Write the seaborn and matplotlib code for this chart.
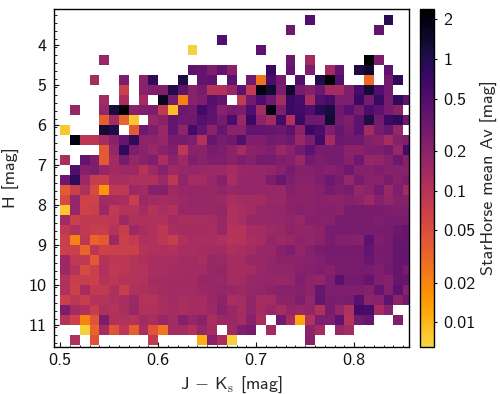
"""StarHorse mean Av across the J-Ks / H colour-magnitude plane."""

import matplotlib

matplotlib.use("Agg")

import matplotlib.pyplot as plt
import numpy as np
import seaborn as sns
from matplotlib.colors import LinearSegmentedColormap, LogNorm
from matplotlib.ticker import MultipleLocator

_ = np.nan

# cell values in mag, top row is H = 3.25-3.5, first column is J-Ks = 0.50-0.51
rows_top = [
    [_]*25 + [.5] + [_]*7 + [.9] + [_]*2,
    [_]*23 + [.33] + [_]*8 + [.38] + [_]*3,
    [_]*16 + [.5] + [_]*19,
    [_]*13 + [.007] + [_]*6 + [.42] + [_]*15,
    [_]*4 + [.16] + [_]*18 + [.32, _, .14] + [_]*5 + [2.2, .25] + [_]*3,
    [_]*13 + [.4, .38, .25, .38, .2, _, _, _, .75, _, .38, _, .25, _, .14, .38, _, 1.1, 1.4, _, .42, _, _],
    [_, _, _, .13, _, _, .25, _, .2, .85, _, _, 1.1, _, .38, .4, _, .42, _, .3, .027, .55, .3, _, .5, _, 1.05, 2.3, .5, _, _, .03, _, .3, .85, _],
    [_, _, _, _, _, _, .07, _, .21, .24, .24, 1.05, .4, .2, .27, .1, .11, .16, .42, .08, 1.9, 1.35, .25, 1.4, .27, .22, .32, .14, .14, .24, .6, 1.3, .5, .3, _, _],
    [_, _, _, _, .14, _, .12, _, .13, _, 1.7, .27, .021, .21, .24, .47, .38, _, .08, .3, .55, .31, .14, .7, .6, .12, .47, .6, .24, .24, .7, .27, .75, .27, .85, .42],
    [_, .17, _, _, .17, 1.2, 2.4, .2, .24, .25, .08, .009, .32, .3, .62, .42, .21, .27, .25, .5, .14, 1.9, .24, .7, .62, .5, .95, 1.2, .32, .45, .27, .55, .42, .28, .2, _],
    [_, _, _, _, .036, .14, .034, .008, _, .16, .2, .38, .31, .31, .47, .4, .27, .55, .16, .7, .19, .14, .62, .11, .7, .31, .31, 1.3, .3, .25, .42, 1.1, .3, .7, .85, .31],
]
rows_middle = [
    [.008, _, _, _, 1.3, 1.05, _, .04, .32, .25, .16, .38, .19, .62, .38, .2, .36, .2, .2, .38, .38, .36, .32, .42, .2, .7, .55, .24, .36, .27, .42, .14, .27, .36, .17, _],
    [_, 2.0, .09, .09, .13, .21, .38, .85, .19, .19, .17, .27, .27, .24, .11, .36, .27, .31, .5, .24, .24, .3, .27, .31, .16, .25, .62, .14, .32, .31, .31, .22, .2, .13, .22, .24],
    [_, _, _, _, .04, .17, .85, .25, .2, .16, .2, .24, .09, .2, .2, .27, .25, .2, .14, .2, .21, .24, .16, .2, .3, .42, .27, .27, .27, .2, .2, .24, .24, .3, .17, .62],
    [.12, _, .38, .25, .04, .14, .28, .17, .2, .24, .12, .2, .15, .24, .2, .24, .24, .2, .25, .22, .27, .27, .24, .23, .16, .3, .25, .27, .27, .22, .32, .17, .18, .22, .32, .22],
    [_, .5, .22, .25, .17, .14, .15, .15, .1, .15, .21, .15, .17, .17, .16, .15, .15, .13, .16, .17, .17, .18, .21, .27, .22, .22, .24, .21, .24, .32, .22, .22, .24, .22, .22, .2],
    [.32, .85, .15, .075, .075, .125, .125, .115, .115, .115, .15, .09, .185, .13, .14, .16, .21, .125, .17, .17, .17, .25, .34, .24, .21, .21, .24, .32, .265, .175, .275, .21, .21, .265, .22, .25],
    [.04, .07, .115, .055, .015, .085, .085, .15, .14, .22, .22, .15, .17, .17, .16, .16, .185, .16, .17, .175, .17, .17, .16, .22, .195, .195, .22, .275, .24, .265, .175, .195, .275, .16, .24, .14],
    [.055, .17, .065, .065, .14, .13, .125, .075, .15, .14, .13, .14, .15, .16, .17, .16, .15, .125, .13, .14, .14, .16, .16, .195, .195, .195, .21, .195, .195, .22, .195, .15, .22, .175, .22, .21],
    [.008, .17, .065, .07, .15, .085, .1, .1, .13, .1, .125, .11, .16, .16, .16, .16, .175, .115, .125, .14, .16, .17, .175, .195, .22, .195, .21, .22, .195, .265, .265, .265, .265, .25, .24, .24],
    [.14, .07, .085, .085, .085, .09, .15, .115, .115, .115, .11, .14, .125, .125, .125, .13, .16, .115, .125, .16, .16, .17, .17, .185, .16, .22, .21, .21, .265, .265, .265, .265, .24, .265, .265, .265],
    [.085, .115, .085, .075, .075, .1, .075, .15, .125, .11, .09, .125, .13, .13, .13, .125, .16, .1, .1, .13, .14, .15, .16, .195, .185, .185, .195, .265, .265, .265, .265, .265, .275, .28, .32, .37],
]
rows_bottom = [
    [.07, .021, .09, .034, .04, .15, .07, .08, .115, .11, .09, .075, .115, .125, .125, .125, .115, .1, .1, .125, .13, .175, .15, .16, .195, .185, .195, .265, .23, .23, .21, .42, .24, .275, .36, .37],
    [.07, .07, .034, .09, .065, .07, .07, .07, .1, .11, .115, .11, .125, .125, .13, .14, .14, .115, .125, .14, .16, .16, .21, .24, .185, .22, .265, .275, .275, .275, .275, .37, .275, .275, .37, .37],
    [.15, .085, .085, .04, .1, .09, .09, .1, .115, .125, .125, .125, .13, .14, .125, .16, .15, .13, .13, .16, .16, .175, .195, .195, .195, .21, .23, .265, .265, .265, .265, .34, .265, .275, .37, .37],
    [.15, .1, .055, .07, .115, .085, .09, .1, .1, .125, .125, .13, .13, .14, .14, .16, .175, .13, .13, .14, .16, .185, .185, .185, .21, .22, .24, .22, .265, .265, .275, .275, .24, .29, .37, .275],
    [.11, .075, .075, .07, .1, .09, .1, .1, .11, .13, .13, .14, .14, .14, .16, .16, .16, .13, .14, .16, .17, .17, .16, .175, .24, .195, .185, .24, .43, .29, .29, .37, .24, .22, .36, .36],
    [.115, .07, .13, .08, .08, .115, .075, .11, .115, .125, .13, .14, .14, .14, .15, .16, .175, .16, .15, .17, .175, .195, .21, .21, .22, .195, .36, .24, .24, .24, .24, .22, .37, .22, .42, .21],
    [.07, .09, .075, .1, .1, .115, .125, .15, .1, .1, .125, .14, .125, .13, .13, .16, .195, .125, .13, .185, .13, .14, .195, .195, .24, .175, .37, .265, .25, .265, .45, .195, .21, .42, .195, .29],
    [.25, .13, .115, .075, .115, .1, .125, .16, .11, .115, .125, .13, .125, .13, .13, .15, .21, .16, .13, .185, .14, .16, .13, .185, .16, .185, .115, .265, .175, .115, .62, .6, .13, .21, _, _],
    [.1, .065, .021, .045, .26, .11, .11, .1, .14, .12, .16, .14, .22, .17, .2, .12, .16, .16, .13, .21, .12, _, .3, .13, .012, .11, .24, .24, .4, .1, .3, .36, _, _, .24, _],
    [_, _, .007, .034, .13, .045, .09, .036, .12, .045, .025, .14, .14, .11, .17, .13, _, .15, .24, .27, _, .14, _, _, _, .19, .14, _, .16, .14, _, _, _, _, _, _],
    [_, .11, _, .045, _, _, _, _, _, .08, _, _, _, _, .011, .21, .12, .007, _, _, _, _, _, _, _, .21, _, _, _, _, _, _, _, _, _, _],
]

x_start = 0.5
x_step = 0.01
y_start = 3.25
y_step = 0.25
x_ticks = [0.5, 0.6, 0.7, 0.8]
y_ticks = [4, 5, 6, 7, 8, 9, 10, 11]
cbar_ticks = [0.01, 0.02, 0.05, 0.1, 0.2, 0.5, 1, 2]
cbar_labels = ["0.01", "0.02", "0.05", "0.1", "0.2", "0.5", "1", "2"]

sns.set_theme(style="white")
plt.rcParams.update({
    "font.family": "cmss10",
    "mathtext.fontset": "cm",
    "axes.formatter.use_mathtext": True,
    "axes.unicode_minus": False,
    "axes.linewidth": 1.0,
    "text.color": "#111111",
})

av = np.array(rows_top + rows_middle + rows_bottom, dtype=float)

colors = plt.cm.inferno(np.linspace(0, 0.9, 256))[::-1]
cmap = LinearSegmentedColormap.from_list("inferno_cut", colors)

fig = plt.figure(figsize=(5.0, 3.94), dpi=100)
ax = fig.add_axes([53.5 / 500, 1 - 347 / 394, 355.5 / 500, 338.5 / 394])
cax = fig.add_axes([419.5 / 500, 1 - 347 / 394, 14.5 / 500, 338.5 / 394])

sns.heatmap(
    av,
    ax=ax,
    cbar_ax=cax,
    cmap=cmap,
    norm=LogNorm(vmin=0.00647, vmax=2.42),
    xticklabels=False,
    yticklabels=False,
)

# heatmap works in cell indices, so the axes get mapped back to mag here
ax.set_xlim(-0.68, 35.6)
ax.set_ylim(33.2, -0.65)
ax.set_xticks([(t - x_start) / x_step for t in x_ticks])
ax.set_xticklabels([f"{t:.1f}" for t in x_ticks])
ax.set_yticks([(t - y_start) / y_step for t in y_ticks])
ax.set_yticklabels([str(t) for t in y_ticks], rotation=0)
ax.xaxis.set_minor_locator(MultipleLocator(1))
ax.yaxis.set_minor_locator(MultipleLocator(0.8))
ax.tick_params(axis="both", which="major", direction="in", length=3.5, width=0.8,
               labelsize=13, colors="#111111", bottom=True, left=True)
ax.tick_params(axis="both", which="minor", direction="in", length=1.8, width=0.7,
               bottom=True, left=True)
ax.tick_params(axis="x", which="major", pad=4)
ax.tick_params(axis="y", which="major", pad=5)
for spine in ax.spines.values():
    spine.set_visible(True)
    spine.set_color("black")
    spine.set_linewidth(1.0)

ax.set_xlabel(r"J $-$ K$_{\mathrm{s}}$ [mag]", fontsize=13, labelpad=5)
ax.set_ylabel("H [mag]", fontsize=13, labelpad=6)

cbar = ax.collections[0].colorbar
cbar.set_ticks(cbar_ticks, labels=cbar_labels)
cbar.ax.minorticks_off()
cbar.ax.tick_params(which="major", length=2.5, width=0.8, labelsize=13, pad=4,
                    colors="#111111", right=True)
cbar.outline.set_visible(True)
cbar.outline.set_edgecolor("black")
cbar.outline.set_linewidth(1.0)
cbar.set_label("StarHorse mean Av [mag]", fontsize=13, labelpad=4)

fig.savefig("out.png", dpi=100)
